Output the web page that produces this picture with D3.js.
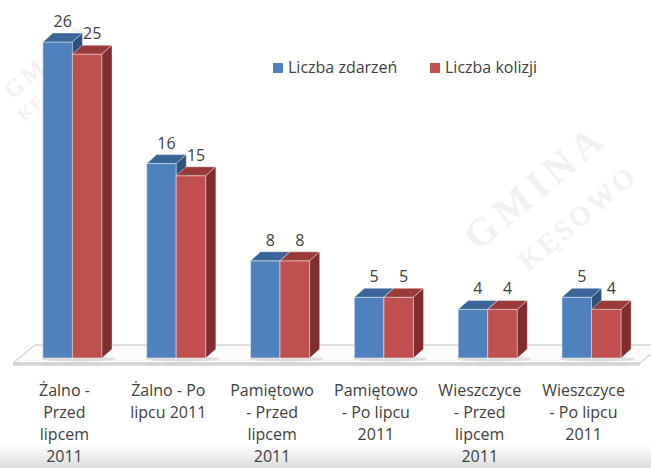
<!DOCTYPE html>
<html>
<head>
<meta charset="utf-8">
<script src="https://cdn.jsdelivr.net/npm/d3@7"></script>
<style>
  html, body { margin: 0; padding: 0; background: #fff; }
  svg { display: block; }
</style>
</head>
<body>
<div id="chart"></div>
<script>
// chart data
const categories = [
  'Żalno - Przed lipcem 2011',
  'Żalno - Po lipcu 2011',
  'Pamiętowo - Przed lipcem 2011',
  'Pamiętowo - Po lipcu 2011',
  'Wieszczyce - Przed lipcem 2011',
  'Wieszczyce - Po lipcu 2011'
];
const categoryLines = [
  ['Żalno -', 'Przed', 'lipcem', '2011'],
  ['Żalno - Po', 'lipcu 2011'],
  ['Pamiętowo', '- Przed', 'lipcem', '2011'],
  ['Pamiętowo', '- Po lipcu', '2011'],
  ['Wieszczyce', '- Przed', 'lipcem', '2011'],
  ['Wieszczyce', '- Po lipcu', '2011']
];
const seriesNames = ['Liczba zdarzeń', 'Liczba kolizji'];
const zdarzenia = [26, 16, 8, 5, 4, 5];
const kolizje = [25, 15, 8, 5, 4, 4];

const width = 651, height = 468;
const font = '"Open Sans", Lato, sans-serif';
const textColor = '#404040';

// colours per series: front, top, side
const colors = [
  { front: '#4f81bd', top: '#3b6598', side: '#2f527c' },
  { front: '#c0504d', top: '#993c39', side: '#7f2e2c' }
];

// 3d depth of the bars
const depth = [10, -9];
const floorY = 358;

const svg = d3.select('#chart').append('svg')
  .attr('width', width)
  .attr('height', height);

// background + bottom shading
const defs = svg.append('defs');
const grad = defs.append('linearGradient')
  .attr('id', 'bottomShade')
  .attr('x1', 0).attr('y1', 0).attr('x2', 0).attr('y2', 1);
grad.append('stop').attr('offset', '0%').attr('stop-color', '#ffffff');
grad.append('stop').attr('offset', '100%').attr('stop-color', '#dcdcdc');

svg.append('rect').attr('width', width).attr('height', height).attr('fill', '#fff');
svg.append('rect')
  .attr('y', 445).attr('width', width).attr('height', height - 445)
  .attr('fill', 'url(#bottomShade)');

// faint watermark (kept inside the picture)
const wm = svg.append('g')
  .attr('font-family', '"Liberation Serif", "DejaVu Serif", serif')
  .attr('fill', '#f1f1f1')
  .attr('font-weight', 'bold');
wm.append('text')
  .attr('transform', 'translate(478,252) rotate(-40)')
  .attr('font-size', 40)
  .attr('letter-spacing', 6)
  .text('GMINA');
wm.append('text')
  .attr('transform', 'translate(528,272) rotate(-40)')
  .attr('font-size', 28)
  .attr('letter-spacing', 3)
  .text('KĘSOWO');
wm.append('text')
  .attr('transform', 'translate(12,100) rotate(-40)')
  .attr('font-size', 24)
  .attr('letter-spacing', 4)
  .text('GMINA');
wm.append('text')
  .attr('transform', 'translate(24,122) rotate(-40)')
  .attr('font-size', 18)
  .attr('letter-spacing', 2)
  .text('KĘSOWO');

// scales
const x = d3.scaleBand()
  .domain(categories)
  .range([20, 644])
  .paddingInner(0.43)
  .paddingOuter(0.22);
const xs = d3.scaleBand()
  .domain(seriesNames)
  .range([0, x.bandwidth()]);
const y = d3.scaleLinear()
  .domain([0, 26])
  .range([floorY, 42]);

// floor
const floorFront = floorY + 5;
svg.append('path')
  .attr('d', `M13,${floorFront + 3} L640,${floorFront + 3} L640,${floorFront} L13,${floorFront} Z`)
  .attr('fill', '#d9d9d9');
svg.append('path')
  .attr('d', `M13,${floorFront} L640,${floorFront} L662,${floorFront - 18} L35,${floorFront - 18} Z`)
  .attr('fill', '#fbfbfb')
  .attr('stroke', '#bfbfbf')
  .attr('stroke-width', 1);

// bar data rows
const rows = categories.map((c, i) => ({
  cat: c,
  values: [zdarzenia[i], kolizje[i]]
}));

const groups = svg.selectAll('.group')
  .data(rows)
  .join('g')
  .attr('class', 'group')
  .attr('transform', (d) => `translate(${x(d.cat)},0)`);

// soft shadow on the floor
groups.append('ellipse')
  .attr('cx', x.bandwidth() / 2 + 6)
  .attr('cy', floorY + 1)
  .attr('rx', x.bandwidth() / 2 + 8)
  .attr('ry', 2.5)
  .attr('fill', '#d0d0d0')
  .attr('opacity', 0.7);

const [dx, dy] = depth;
const w = xs.bandwidth();

groups.each(function (d) {
  const g = d3.select(this);
  d.values.forEach((v, si) => {
    const x0 = xs(seriesNames[si]);
    const yt = y(v);
    const c = colors[si];
    const bar = g.append('g').attr('class', 'bar');
    bar.append('rect')
      .attr('x', x0).attr('y', yt)
      .attr('width', w).attr('height', floorY - yt)
      .attr('fill', c.front)
      .attr('stroke', 'rgba(255,255,255,0.45)')
      .attr('stroke-width', 1);
    bar.append('path')
      .attr('d', `M${x0},${yt} L${x0 + w},${yt} L${x0 + w + dx},${yt + dy} L${x0 + dx},${yt + dy} Z`)
      .attr('fill', c.top)
      .attr('stroke', 'rgba(255,255,255,0.45)')
      .attr('stroke-width', 1);
    bar.append('path')
      .attr('d', `M${x0 + w},${yt} L${x0 + w + dx},${yt + dy} L${x0 + w + dx},${floorY + dy} L${x0 + w},${floorY} Z`)
      .attr('fill', c.side)
      .attr('stroke', 'rgba(255,255,255,0.35)')
      .attr('stroke-width', 1);
  });
});

// value labels (drawn after all bars)
groups.each(function (d) {
  const g = d3.select(this);
  d.values.forEach((v, si) => {
    g.append('text')
      .attr('x', xs(seriesNames[si]) + w / 2 + dx / 2)
      .attr('y', y(v) + dy - 6)
      .attr('text-anchor', 'middle')
      .attr('font-family', font)
      .attr('font-size', 16)
      .attr('fill', textColor)
      .text(v);
  });
});

// category labels
svg.selectAll('.cat-label')
  .data(categories)
  .join('text')
  .attr('class', 'cat-label')
  .attr('text-anchor', 'middle')
  .attr('font-family', font)
  .attr('font-size', 16)
  .attr('fill', textColor)
  .each(function (d, i) {
    const t = d3.select(this);
    const cx = x(d) + x.bandwidth() / 2 - 8;
    categoryLines[i].forEach((line, li) => {
      t.append('tspan')
        .attr('x', cx)
        .attr('y', 396 + li * 22)
        .text(line);
    });
  });

// legend
const legend = svg.append('g').attr('transform', 'translate(273,63)');
const legendX = [0, 157];
seriesNames.forEach((name, i) => {
  const item = legend.append('g').attr('transform', `translate(${legendX[i]},0)`);
  item.append('rect')
    .attr('width', 10).attr('height', 10)
    .attr('fill', colors[i].front);
  item.append('text')
    .attr('x', 15).attr('y', 10)
    .attr('font-family', font)
    .attr('font-size', 16)
    .attr('fill', textColor)
    .text(name);
});
</script>
</body>
</html>
